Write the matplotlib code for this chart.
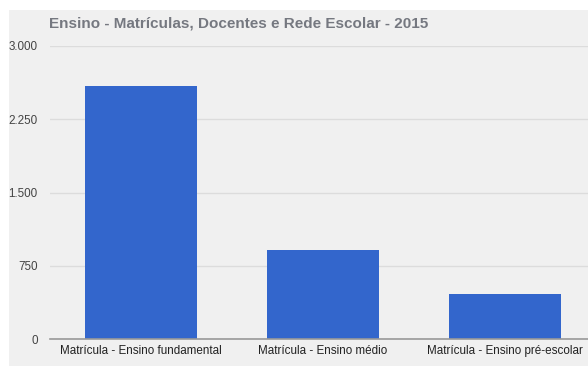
import matplotlib
matplotlib.use('Agg')
from matplotlib import pyplot as plt
from matplotlib.patches import Rectangle

# Matrículas por nível de ensino, 2015
categories = ['Matrícula - Ensino fundamental',
              'Matrícula - Ensino médio',
              'Matrícula - Ensino pré-escolar']
values = [2591, 912, 465]
yticks = [0, 750, 1500, 2250, 3000]
yticklabels = ['0', '750', '1.500', '2.250', '3.000']
title = 'Ensino - Matrículas, Docentes e Rede Escolar - 2015'

W, H = 588, 372
plt.rcParams['font.family'] = ['Liberation Sans', 'DejaVu Sans']

fig = plt.figure(figsize=(W / 100, H / 100), dpi=100, facecolor='white')

# gray chart panel
fig.patches.append(Rectangle((9 / W, 6 / H), 1, 356 / H,
                             transform=fig.transFigure, facecolor='#f0f0f0',
                             edgecolor='none', zorder=0))

ax = fig.add_axes([50 / W, 32.7 / H, 546 / W, 293.6 / H])
ax.set_zorder(2)
ax.set_facecolor('none')
ax.bar(range(len(values)), values, width=0.615, color='#3366cc', zorder=3)
ax.set_xlim(-0.5, 2.5)
ax.set_ylim(0, 3000)

ax.set_yticks(yticks)
ax.set_yticklabels(yticklabels, fontsize=8.4, color='#444444')
ax.set_xticks(range(len(categories)))
ax.set_xticklabels(categories, fontsize=8.4, color='#222222')
ax.tick_params(length=0)
ax.tick_params(axis='y', pad=8.8)
ax.tick_params(axis='x', pad=4)
ax.grid(axis='y', color='#dcdcdc', linewidth=1, zorder=1)
for s in ['top', 'right', 'left']:
    ax.spines[s].set_visible(False)
ax.spines['bottom'].set_color('#999999')
ax.spines['bottom'].set_linewidth(1.2)
ax.spines['bottom'].set_zorder(4)

fig.text(49 / W, 1 - 24 / H, title, fontsize=11, fontweight='bold',
         color='#757880', va='center', ha='left', zorder=3)

fig.savefig('out.png', dpi=100)
